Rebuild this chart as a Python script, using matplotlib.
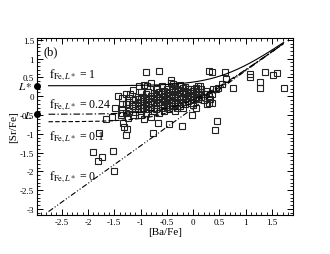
import numpy as np
import matplotlib
matplotlib.use("Agg")
import matplotlib.pyplot as plt
from matplotlib.ticker import MultipleLocator
import matplotlib.transforms as mtransforms

plt.rcParams['font.family'] = ['Liberation Serif', 'DejaVu Serif']
plt.rcParams['mathtext.fontset'] = 'stix'

# ---- data ----
ba_fe = [
    -0.90, -0.65, -1.42, -1.02, -0.94, -0.88, -0.80, -0.68, -1.15, -1.20,
    -1.49, -1.38, -1.55, -1.65, -1.23, -0.93, -1.34, -1.32, -1.25, -1.28,
    -1.79, -1.90, -1.74, -1.81, -1.52, -1.51, -0.76, -0.66,
    0.35, 0.60, 1.09, 1.09, 1.37, 1.52, 1.60, 1.28, 1.27, 1.72, 0.76, 0.62,
    0.46, 0.41, -0.03, -0.21, -0.45, 0.30,
    0.38, 0.44, 0.47, 0.54, 0.35, 0.31, 0.33, 0.31, 0.25, 0.22, 0.27, 0.36,
    -0.43, -0.42, -0.38, 0.14, 0.09, 0.12,
    # dense cluster
    -1.35, -1.35, -1.35, -1.35,
    -1.28, -1.28, -1.28,
    -1.22, -1.22, -1.22, -1.22,
    -1.15, -1.15, -1.15,
    -1.10, -1.10, -1.10, -1.10,
    -1.05, -1.05, -1.05, -1.05,
    -1.00, -1.00, -1.00, -1.00, -1.00,
    -0.95, -0.95, -0.95,
    -0.90, -0.90, -0.90, -0.90, -0.90,
    -0.85, -0.85, -0.85, -0.85,
    -0.80, -0.80, -0.80, -0.80,
    -0.75, -0.75, -0.75, -0.75, -0.75,
    -0.70, -0.70, -0.70, -0.70, -0.70,
    -0.65, -0.65, -0.65, -0.65,
    -0.60, -0.60, -0.60, -0.60, -0.60,
    -0.55, -0.55, -0.55, -0.55, -0.55,
    -0.50, -0.50, -0.50, -0.50, -0.50,
    -0.45, -0.45, -0.45, -0.45, -0.45,
    -0.40, -0.40, -0.40, -0.40, -0.40, -0.40,
    -0.35, -0.35, -0.35, -0.35, -0.35, -0.35,
    -0.30, -0.30, -0.30, -0.30, -0.30,
    -0.25, -0.25, -0.25, -0.25, -0.25, -0.25,
    -0.20, -0.20, -0.20, -0.20, -0.20,
    -0.15, -0.15, -0.15, -0.15, -0.15,
    -0.10, -0.10, -0.10, -0.10,
    -0.05, -0.05, -0.05, -0.05,
    0.00, 0.00, 0.00, 0.00,
    0.05, 0.05, 0.05, 0.05,
    0.10, 0.10, 0.10, 0.10,
    0.15, 0.15, 0.15,
    0.20, 0.20,
]
sr_fe = [
    0.65, 0.68, 0.02, 0.27, 0.29, 0.27, 0.34, 0.23, 0.16, 0.05,
    -0.32, -0.50, -0.55, -0.61, -0.59, -0.61, -0.70, -0.83, -0.88, -1.03,
    -0.99, -1.49, -1.61, -1.73, -1.47, -1.98, -0.97, -0.70,
    0.64, 0.64, 0.58, 0.52, 0.64, 0.56, 0.63, 0.39, 0.23, 0.23, 0.23, 0.47,
    -0.65, -0.89, -0.50, -0.79, -0.74, 0.67,
    0.20, 0.19, 0.23, 0.32, 0.05, 0.01, -0.08, -0.19, 0.14, 0.05, -0.21, -0.19,
    0.43, 0.34, 0.32, 0.26, -0.08, -0.03,
    # dense cluster
    -0.45, -0.33, -0.05, -0.20,
    -0.45, -0.20, 0.05,
    -0.38, -0.15, -0.30, -0.05,
    -0.50, -0.25, -0.10,
    -0.42, -0.30, -0.06, -0.20,
    -0.35, -0.15, -0.02, -0.26,
    -0.40, -0.22, -0.06, 0.10, -0.50,
    -0.30, -0.12, -0.02,
    -0.45, -0.25, -0.15, -0.05, 0.05,
    -0.35, -0.20, -0.08, 0.12,
    -0.55, -0.28, -0.12, 0.00,
    -0.40, -0.18, -0.05, 0.08, -0.30,
    -0.22, -0.10, 0.02, -0.35, 0.18,
    -0.45, -0.15, -0.03, 0.10,
    -0.30, -0.20, -0.08, 0.05, 0.26,
    -0.38, -0.12, 0.00, 0.15, -0.25,
    -0.28, -0.18, -0.05, 0.08, 0.20,
    -0.35, -0.10, 0.02, 0.12, -0.22,
    -0.25, -0.15, -0.02, 0.10, 0.22, 0.04,
    -0.40, -0.10, 0.00, 0.15, 0.28, -0.20,
    -0.18, -0.05, 0.05, 0.20, -0.30,
    -0.25, -0.08, 0.08, 0.16, 0.30, 0.00,
    -0.15, -0.02, 0.10, 0.22, -0.30,
    -0.20, 0.05, 0.15, -0.08, 0.25,
    -0.12, 0.00, 0.12, 0.19,
    -0.18, -0.03, 0.08, 0.20,
    -0.10, 0.02, 0.15, -0.22,
    -0.05, 0.10, 0.22, -0.30,
    -0.08, 0.05, 0.18, 0.26,
    -0.03, 0.10, 0.20,
    0.05, -0.10,
]

# model curves: constant light-element plateau mixed with the main component
f_labels = ['1', '0.24', '0.1', '0']
plateau_levels = [0.28, -0.48, -0.68, None]   # [Sr/Fe] plateau for each f
L_star = 0.28
L_level = -0.48
main_offset = -0.32
model_x_range = (-2.75, 1.72)

# ---- figure ----
fig = plt.figure(figsize=(3.3, 2.55), dpi=100)
ax = fig.add_axes([0.112, 0.153, 0.776, 0.694])

ax.plot(ba_fe, sr_fe, linestyle='none', marker='s', markersize=4.6,
        markerfacecolor='none', markeredgecolor='#222222', markeredgewidth=0.8)

xm = np.linspace(model_x_range[0], model_x_range[1], 300)
styles = ['-', (0, (6, 2, 1.2, 2)), (0, (4, 2)), (0, (5, 1.8, 1, 1.8, 1, 1.8))]
for lev, ls in zip(plateau_levels, styles):
    plateau = 0.0 if lev is None else 10 ** lev
    ym = np.log10(plateau + 10 ** (xm + main_offset))
    ax.plot(xm, ym, color='black', linestyle=ls, linewidth=0.8)

label_pos = [(-2.75, 0.58), (-2.75, -0.22), (-2.75, -1.06), (-2.75, -2.12)]
for (lx, ly), lab in zip(label_pos, f_labels):
    ax.text(lx, ly, r'$\mathrm{f}_{\mathrm{Fe},L*}$ = ' + lab, fontsize=8.5,
            ha='left', va='center')

ax.text(-2.85, 1.19, '(b)', fontsize=9, ha='left', va='center')

ax.set_xlim(-2.97, 1.9)
ax.set_ylim(-3.16, 1.55)
ax.xaxis.set_major_locator(MultipleLocator(0.5))
ax.xaxis.set_minor_locator(MultipleLocator(0.1))
ax.yaxis.set_major_locator(MultipleLocator(0.5))
ax.yaxis.set_minor_locator(MultipleLocator(0.1))
ax.tick_params(which='both', direction='in', top=True, right=True, labelsize=6.5, pad=2)
ax.tick_params(which='major', length=4, width=0.7)
ax.tick_params(which='minor', length=2, width=0.6)

ax.set_xticks(ax.get_xticks())
ax.set_xticklabels(['%g' % v for v in ax.get_xticks()])
ax.set_yticks(ax.get_yticks())
ax.set_yticklabels(['%g' % v for v in ax.get_yticks()])
ax.set_xlim(-2.97, 1.9)
ax.set_ylim(-3.16, 1.55)

ax.set_xlabel('[Ba/Fe]', fontsize=8, labelpad=1)
ax.set_ylabel('[Sr/Fe]', fontsize=8, labelpad=1)

# L* and L markers on left axis
trans = mtransforms.blended_transform_factory(ax.transAxes, ax.transData)
ax.plot([0, 0], [L_star, L_level], linestyle='none', marker='o', markersize=4,
        color='black', transform=trans, clip_on=False, zorder=5)
ax.annotate(r'$L*$', xy=(0, L_star), xycoords=trans, xytext=(-3, 0),
            textcoords='offset points', ha='right', va='center', fontsize=8)
ax.annotate(r'$L$', xy=(0, L_level), xycoords=trans, xytext=(-3, 0),
            textcoords='offset points', ha='right', va='center', fontsize=8)

for s in ax.spines.values():
    s.set_linewidth(0.8)

fig.savefig('out.png', dpi=100)
